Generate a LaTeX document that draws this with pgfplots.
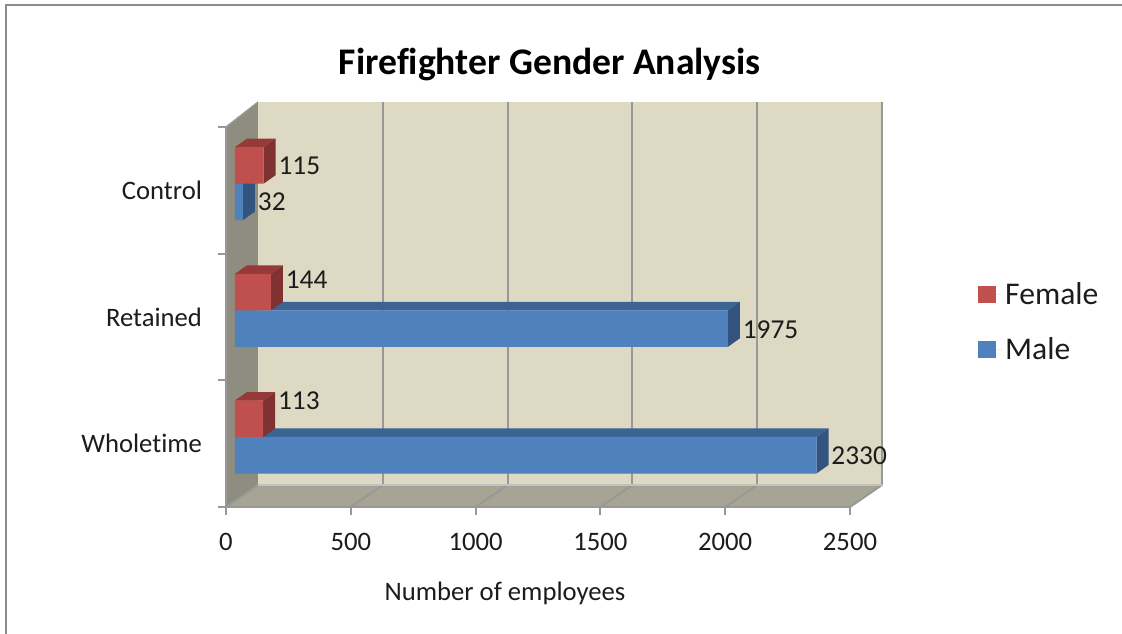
\documentclass[border=0pt]{standalone}
\usepackage{pgfplots}
\usepackage{pgfplotstable}
\pgfplotsset{compat=1.18}
\usepackage{fontspec}
\setmainfont[Ligatures=NoCommon]{Carlito}

\definecolor{wallback}{HTML}{DDD9C3}
\definecolor{wallleft}{HTML}{8E8D7F}
\definecolor{wallfloor}{HTML}{A6A492}
\definecolor{gridgray}{HTML}{989898}
\definecolor{framegray}{HTML}{8C8C8C}
\definecolor{txt}{HTML}{1C1C1C}
\definecolor{malefront}{HTML}{4F81BD}
\definecolor{maletop}{HTML}{3B6494}
\definecolor{maleside}{HTML}{32547F}
\definecolor{femalefront}{HTML}{C0504D}
\definecolor{femaletop}{HTML}{953A38}
\definecolor{femaleside}{HTML}{7F3230}

% y: 0 Wholetime, 1 Retained, 2 Control; dy moves the value label (pt)
\pgfplotstableread{
y v dy
0 2330 -14.25
1 1975 -14.8
2 32 -13.7
}\maletable
\pgfplotstableread{
y v dy
0 113 27
1 144 23.25
2 115 13.5
}\femaletable

% extruded faces of one bar: value, lower y, upper y, colour top, colour side
\newcommand{\barfaces}[5]{%
  \pgfmathsetmacro{\xd}{#1+48}%
  \pgfmathsetmacro{\yd}{#3+0.067}%
  \pgfmathsetmacro{\yl}{#2+0.067}%
  \addplot[forget plot,draw=none,fill=#4] coordinates {(0,#3) (#1,#3) (\xd,\yd) (48,\yd)} -- cycle;
  \addplot[forget plot,draw=none,fill=#5] coordinates {(#1,#2) (#1,#3) (\xd,\yd) (\xd,\yl)} -- cycle;
}

\begin{document}
\begin{tikzpicture}
\useasboundingbox (-169.5pt,-95.25pt) rectangle (672pt,380.25pt);

% chart walls, in reference pixels
\begin{scope}[x=0.75pt,y=-0.75pt,shift={(-226,-507)}]
  \draw[framegray,line width=1.6pt] (6,634) -- (6,5) -- (1122,5);
  \fill[wallback] (258,102) rectangle (882,485);
  \fill[wallleft] (226,127) -- (258,102) -- (258,485) -- (226,507) -- cycle;
  \fill[wallfloor] (226,507) -- (258,485) -- (882,485) -- (850,507) -- cycle;
  \foreach \i in {0,...,5} {
    \pgfmathsetmacro{\xf}{226+124.8*\i}
    \pgfmathsetmacro{\xb}{258+124.8*\i}
    \draw[gridgray,line width=1.5pt] (\xf,507) -- (\xb,485);
    \ifnum\i>0 \draw[gridgray,line width=1.5pt] (\xb,102) -- (\xb,485); \fi
  }
  \draw[gridgray,line width=1pt] (226,127) -- (258,102);
  \draw[gridgray!60,line width=1pt] (258,485) -- (882,485);
\end{scope}

\begin{axis}[
    at={(0,0)},anchor=south west,
    scale only axis,width=468pt,height=285pt,
    xmin=0,xmax=2500,ymin=0,ymax=3,
    axis x line*=bottom,axis y line*=left,
    axis line style={gridgray,line width=1.5pt,-},
    tick style={gridgray,line width=1.5pt},
    tick align=outside,
    xtick={0,500,...,2500},
    ytick={0.5,1.5,2.5},
    yticklabels={Wholetime,Retained,Control},
    minor ytick={0,1,2,3},
    major tick length=6pt,
    minor tick length=6pt,
    y tick style={draw=none},
    minor y tick style={draw=gridgray,line width=1.5pt},
    /pgf/number format/assume math mode=true,
    /pgf/number format/1000 sep={},
    tick label style={font=\fontsize{20}{22}\selectfont,text=txt},
    xticklabel style={yshift=-10pt},
    yticklabel style={xshift=-8.5pt},
    clip=false,
    title={\textbf{Firefighter Gender Analysis}},
    title style={at={(0.519,1.171)},anchor=center,yshift=-7.5pt,font=\fontsize{28.2}{32}\selectfont,text=black},
    xlabel={Number of employees},
    xlabel style={at={(0.447,-0.228)},anchor=center,font=\fontsize{20}{22}\selectfont,text=txt},
]
\end{axis}

% bars start a little inside the front plane
\begin{axis}[
    at={(0,0)},anchor=south west,
    scale only axis,width=468pt,height=285pt,
    xmin=-36,xmax=2464,ymin=-0.5526,ymax=2.447,
    hide axis,clip=false,
    legend style={at={(1.204,0.598)},anchor=north west,draw=none,fill=none,
      font=\fontsize{23.7}{26}\selectfont,text=txt,
      row sep=19.2pt,inner sep=0pt,cells={anchor=west}},
    reverse legend,
    legend image code/.code={\fill[#1] (0pt,-6.5pt) rectangle (13.5pt,6.5pt);\path (0pt,0pt) -- (18.75pt,0pt);},
    /pgf/number format/assume math mode=true,
    /pgf/number format/1000 sep={},
    every node near coord/.style={font=\fontsize{20.5}{22}\selectfont,text=txt,anchor=west,inner sep=0pt},
]
% male
\barfaces{2330}{-0.288}{0}{maletop}{maleside}
\barfaces{1975}{0.712}{1}{maletop}{maleside}
\barfaces{32}{1.712}{2}{maletop}{maleside}
\addplot[xbar,bar width=27.4pt,bar shift=-13.7pt,draw=none,fill=malefront,
    nodes near coords,point meta=\thisrow{v},
    visualization depends on={\thisrow{dy} \as \dyv},
    every node near coord/.append style={xshift=11pt,yshift=\dyv pt}]
    table[x=v,y=y] {\maletable};
\addlegendentry{Male}
% female
\barfaces{113}{0}{0.288}{femaletop}{femaleside}
\barfaces{144}{1}{1.288}{femaletop}{femaleside}
\barfaces{115}{2}{2.288}{femaletop}{femaleside}
\addplot[xbar,bar width=27.4pt,bar shift=13.7pt,draw=none,fill=femalefront,
    nodes near coords,point meta=\thisrow{v},
    visualization depends on={\thisrow{dy} \as \dyv},
    every node near coord/.append style={xshift=11pt,yshift=\dyv pt}]
    table[x=v,y=y] {\femaletable};
\addlegendentry{Female}
\end{axis}
\end{tikzpicture}
\end{document}
